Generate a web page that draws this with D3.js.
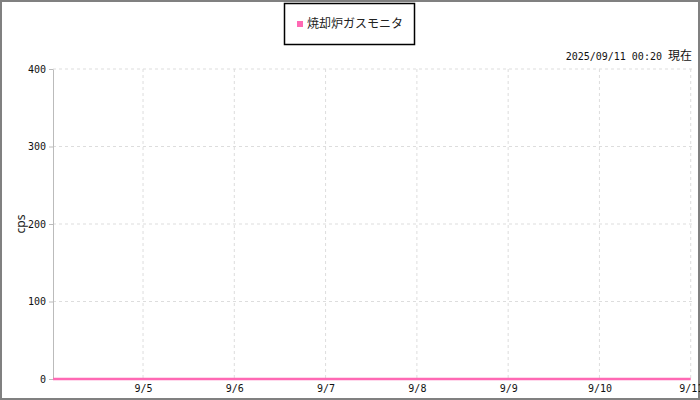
<!DOCTYPE html>
<html>
<head>
<meta charset="utf-8">
<script src="https://cdn.jsdelivr.net/npm/d3@7"></script>
<style>
  html, body { margin: 0; padding: 0; background: #fff; }
  svg { display: block; }
</style>
</head>
<body>
<div id="chart"></div>
<script>
var seriesName = "焼却炉ガスモニタ";
var times = [
  "2025-09-04 00:20", "2025-09-05 00:00", "2025-09-06 00:00", "2025-09-07 00:00",
  "2025-09-08 00:00", "2025-09-09 00:00", "2025-09-10 00:00", "2025-09-11 00:00"
];
var values = [0, 0, 0, 0, 0, 0, 0, 0];
var yTicks = [0, 100, 200, 300, 400];
var xTickLabels = ["9/5", "9/6", "9/7", "9/8", "9/9", "9/10", "9/11"];
var stampText = "2025/09/11 00:20";

var width = 700, height = 400;
var plotL = 53, plotR = 692, plotT = 69, plotB = 379;
var parse = d3.timeParse("%Y-%m-%d %H:%M");
var data = times.map(function(t, i) { return { t: parse(t), v: values[i] }; });

var x = d3.scaleTime()
  .domain([parse("2025-09-04 00:20"), parse("2025-09-11 00:20")])
  .range([plotL, plotR]);
var y = d3.scaleLinear().domain([0, 400]).range([plotB, plotT]);

var svg = d3.select("#chart").append("svg")
  .attr("width", width)
  .attr("height", height);

svg.append("rect")
  .attr("x", 1).attr("y", 1)
  .attr("width", width - 2).attr("height", height - 2)
  .style("fill", "white")
  .style("stroke", "#808080")
  .style("stroke-width", 2);

// gridlines
var xTickDates = xTickLabels.map(function(s) {
  var p = s.split("/");
  return new Date(2025, +p[0] - 1, +p[1]);
});

svg.append("g")
  .selectAll("line")
  .data(xTickDates)
  .enter().append("line")
  .attr("x1", function(d) { return x(d); })
  .attr("x2", function(d) { return x(d); })
  .attr("y1", plotT)
  .attr("y2", plotB)
  .style("stroke", "#dddddd")
  .style("stroke-dasharray", "3,3");

svg.append("g")
  .selectAll("line")
  .data(yTicks.filter(function(d) { return d > 0; }))
  .enter().append("line")
  .attr("x1", plotL)
  .attr("x2", plotR)
  .attr("y1", function(d) { return y(d); })
  .attr("y2", function(d) { return y(d); })
  .style("stroke", "#dddddd")
  .style("stroke-dasharray", "3,3");

// y axis
var yAxis = svg.append("g")
  .attr("transform", "translate(" + plotL + ",0)")
  .call(d3.axisLeft(y).tickValues(yTicks).tickSize(4).tickSizeOuter(0).tickPadding(3));
yAxis.select(".domain").style("stroke", "#bbbbbb");
yAxis.selectAll(".tick line").style("stroke", "#bbbbbb");
yAxis.selectAll("text")
  .style("font-family", "DejaVu Sans Mono")
  .style("font-size", "10px")
  .style("fill", "#111");

// x axis
var xAxis = svg.append("g")
  .attr("transform", "translate(0," + plotB + ")")
  .call(d3.axisBottom(x).tickValues(xTickDates).tickSize(0).tickPadding(6)
    .tickFormat(function(d, i) { return xTickLabels[i]; }));
xAxis.select(".domain").remove();
xAxis.selectAll("text")
  .style("font-family", "DejaVu Sans Mono")
  .style("font-size", "10px")
  .style("fill", "#111");

svg.append("text")
  .attr("transform", "translate(25," + ((plotT + plotB) / 2) + ") rotate(-90)")
  .style("font-family", "Noto Sans")
  .style("font-size", "12px")
  .style("text-anchor", "middle")
  .style("fill", "#222")
  .text("cps");

// series line
var line = d3.line()
  .x(function(d) { return x(d.t); })
  .y(function(d) { return y(d.v); });

svg.append("path")
  .datum(data)
  .attr("d", line)
  .style("fill", "none")
  .style("stroke", "#ff69b4")
  .style("stroke-width", 2.5);

// legend
svg.append("rect")
  .attr("x", 284.5).attr("y", 3.5)
  .attr("width", 130).attr("height", 41)
  .style("fill", "white")
  .style("stroke", "black")
  .style("stroke-width", 1.5);

svg.append("rect")
  .attr("x", 297).attr("y", 21)
  .attr("width", 6).attr("height", 6)
  .style("fill", "#ff69b4");

svg.append("text")
  .attr("x", 307).attr("y", 28)
  .style("font-family", "Noto Sans CJK JP")
  .style("font-size", "12px")
  .style("fill", "#222")
  .text(seriesName);

// timestamp
var stamp = svg.append("text")
  .attr("x", 692).attr("y", 60)
  .style("text-anchor", "end")
  .style("font-family", "DejaVu Sans Mono")
  .style("font-size", "10px")
  .style("fill", "#111");
stamp.append("tspan").text(stampText + " ");
stamp.append("tspan")
  .style("font-family", "Noto Sans CJK JP")
  .style("font-size", "12px")
  .text("現在");
</script>
</body>
</html>
